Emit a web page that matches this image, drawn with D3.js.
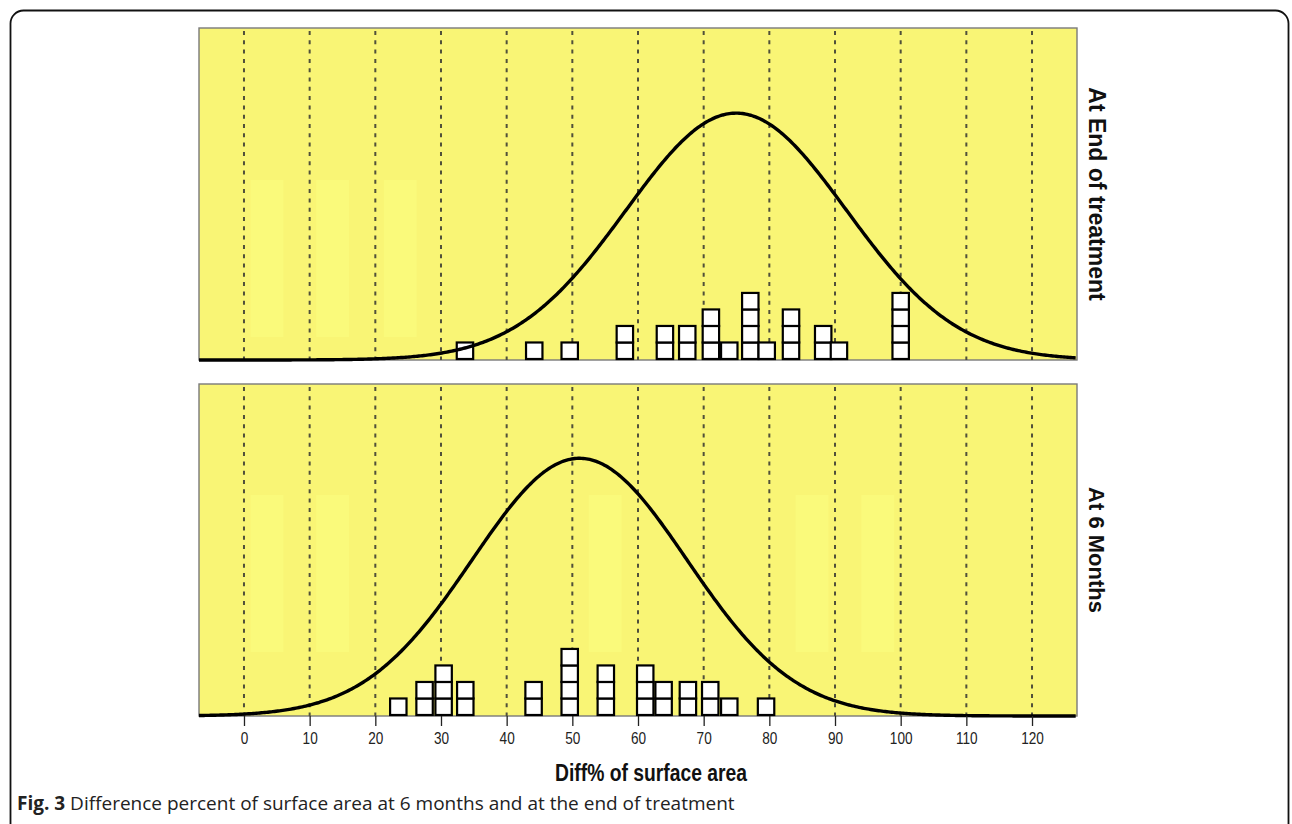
<!DOCTYPE html>
<html><head><meta charset="utf-8">
<script src="https://cdn.jsdelivr.net/npm/d3@7"></script>
<style>
body{margin:0;background:#fff;}
svg{display:block;}
</style></head>
<body>
<svg id="chart" width="1292" height="824"></svg>
<script>
// ---- data ----
const ticks = [0,10,20,30,40,50,60,70,80,90,100,110,120];
const panels = ["At End of treatment","At 6 Months"];
// dot plot columns: value position, count of stacked squares
const endValues = [33.65,44.2,49.6,58.0,64.1,67.5,71.1,73.9,77.1,79.6,83.3,88.2,90.6,100.0];
const endCounts = [1,1,1,2,2,2,3,1,4,1,3,2,1,4];
const sixValues = [23.5,27.5,30.4,33.7,44.1,49.6,55.1,61.1,63.9,67.6,71.0,73.9,79.5];
const sixCounts = [1,2,3,2,2,4,3,3,2,2,2,1,1];
const xTitle = "Diff% of surface area";
const captionBold = "Fig. 3";
const captionText = " Difference percent of surface area at 6 months and at the end of treatment";
const binWidth = 2.5;
const curveScales = [251, 255]; // normal curve area factor (count units) per panel

const svg = d3.select("#chart");
const left = 199, right = 1077;
const panelTops = [28, 384], panelH = 332;

const x = d3.scaleLinear().domain([-6.85, 126.85]).range([left, right]);

// outer frame
svg.append("rect").attr("x",10.5).attr("y",10.5).attr("width",1278).attr("height",840)
  .attr("rx",13).attr("fill","none").attr("stroke","#111").attr("stroke-width",1.8);

const datasets = [
  {vals:endValues, cnts:endCounts},
  {vals:sixValues, cnts:sixCounts}
];

// faint lighter blocks (image artifacts in reference)
const lightBlocks = [
  [[1,6],[11,16],[21.3,26.3]],
  [[1,6],[11,16],[52.5,57.5],[84,89],[94,99]]
];
const blockOffset = [152, 111];

datasets.forEach((ds, i) => {
  const top = panelTops[i];
  const y = d3.scaleLinear().domain([0, 20.1]).range([top+panelH, top]);
  const g = svg.append("g");
  g.append("rect").attr("x",left).attr("y",top).attr("width",right-left).attr("height",panelH)
    .attr("fill","#f9f575").attr("stroke","#7a7a7a").attr("stroke-width",1.4);
  lightBlocks[i].forEach(b => {
    g.append("rect").attr("x",x(b[0])).attr("y",top+blockOffset[i]).attr("width",x(b[1])-x(b[0]))
      .attr("height",157).attr("fill","#fafa7b");
  });
  // gridlines
  g.selectAll("line.grid").data(ticks).join("line")
    .attr("x1",d=>x(d)).attr("x2",d=>x(d)).attr("y1",top+3).attr("y2",top+panelH)
    .attr("stroke","#50503a").attr("stroke-width",2).attr("stroke-dasharray","4,5.3");
  // normal curve from the dot data
  const rows = [];
  ds.vals.forEach((v,k)=>{ for(let c=0;c<ds.cnts[k];c++) rows.push(v); });
  const mean = d3.mean(rows), sd = d3.deviation(rows);
  const xs = d3.range(-6.85, 126.9, 0.25);
  const line = d3.line().x(d=>x(d)).y(d=>y(curveScales[i]/sd * Math.exp(-0.5*((d-mean)/sd)**2)));
  // squares
  const sq = [];
  ds.vals.forEach((v,k)=>{ for(let c=0;c<ds.cnts[k];c++) sq.push({v, c}); });
  const s = x(binWidth) - x(0);
  g.selectAll("rect.sq").data(sq).join("rect")
    .attr("x", d=>x(d.v)-s/2).attr("y", d=>y(d.c+1)-1)
    .attr("width", s).attr("height", y(0)-y(1))
    .attr("fill","#fff").attr("stroke","#000").attr("stroke-width",2.2);
  g.append("path").attr("d", line(xs)).attr("fill","none").attr("stroke","#000").attr("stroke-width",3.4);
  // strip label
  svg.append("text").attr("transform",`translate(1089,${top+panelH/2}) rotate(90)`)
    .attr("text-anchor","middle").attr("font-family","Liberation Sans, Arial, sans-serif")
    .attr("font-weight","bold").attr("font-size",i===0?23:22).attr("fill","#111").text(panels[i]);
});

// x axis
const axisY = panelTops[1] + panelH;
const ax = svg.append("g").attr("transform",`translate(0,${axisY})`)
  .call(d3.axisBottom(x).tickValues(ticks).tickSize(10).tickPadding(6));
ax.select(".domain").remove();
ax.selectAll("line").attr("stroke","#222").attr("stroke-width",1.3);
ax.selectAll("text").attr("font-family","Liberation Sans, Arial, sans-serif")
  .attr("font-size",17).attr("fill","#222").attr("transform","scale(0.8,1)");

svg.append("text").attr("transform","translate(651,781) scale(0.84,1)").attr("text-anchor","middle")
  .attr("font-family","Liberation Sans, Arial, sans-serif").attr("font-weight","bold")
  .attr("font-size",23).attr("fill","#111").text(xTitle);

const cap = svg.append("text").attr("x",17).attr("y",810)
  .attr("font-family","Open Sans, sans-serif").attr("font-size",19).attr("fill","#222");
cap.append("tspan").attr("font-weight","bold").text(captionBold);
cap.append("tspan").text(captionText);
</script>
</body></html>
